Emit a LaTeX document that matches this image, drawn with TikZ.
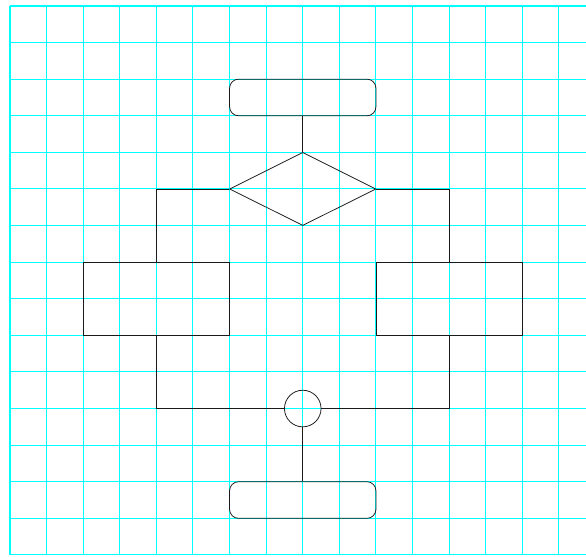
\documentclass[tikz,border=0pt]{standalone}
\usepackage{tikz}
\usetikzlibrary{arrows.meta, positioning, shapes.geometric, calc}
\definecolor{gridcyan}{HTML}{00FFFF}
\definecolor{linedark}{HTML}{1A1A1A}

\begin{document}
\begin{tikzpicture}[
    every node/.style={font=\footnotesize},
    term/.style={draw=linedark, rounded corners=7pt, minimum width=4cm, minimum height=1cm, inner sep=0pt},
    decide/.style={draw=linedark, diamond, aspect=2, minimum width=4cm, minimum height=2cm, inner sep=0pt},
    proc/.style={draw=linedark, minimum width=4cm, minimum height=2cm, inner sep=0pt},
    joint/.style={draw=linedark, circle, minimum size=1cm, inner sep=0pt},
    conn/.style={linedark},
    every path/.append style={line width=0.6pt}
]
\useasboundingbox (-0.273,-0.055) rectangle (15.74,15.164);
\draw[gridcyan, line width=0.8pt] (0,0) grid (15.74,15);

\node[term] (start) at (8,12.5) {};
\node[decide] (choice) at (8,10) {};
\node[proc] (left) at (4,7) {};
\node[proc] (right) at (12,7) {};
\node[joint] (merge) at (8,4) {};
\node[term] (stop) at (8,1.5) {};

\draw[conn] (start) -- (choice);
\draw[conn] (choice.west) -| (left.north);
\draw[conn] (choice.east) -| (right.north);
\draw[conn] (left.south) |- (merge.west);
\draw[conn] (right.south) |- (merge.east);
\draw[conn] (merge) -- (stop);

\end{tikzpicture}
\end{document}
